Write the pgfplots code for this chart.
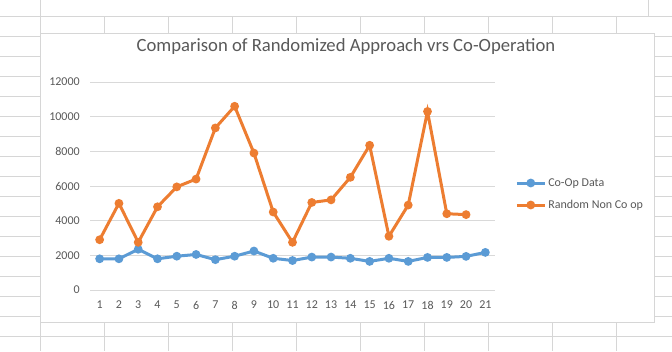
\documentclass[border=0pt]{standalone}
\usepackage{fontspec}
\setmainfont{Carlito}
\usepackage{pgfplots}
\pgfplotsset{compat=1.18}
\definecolor{coop}{HTML}{5B9BD5}
\definecolor{rnd}{HTML}{ED7D31}
\definecolor{gridc}{HTML}{D9D9D9}
\definecolor{sheet}{HTML}{D6D6D6}
\definecolor{txt}{HTML}{595959}
\begin{document}
\begin{tikzpicture}
\begin{scope}[x=0.75pt,y=-0.75pt]
  \useasboundingbox (0,0) rectangle (672,351);
  \fill[white] (0,0) rectangle (672,351);
  \foreach \yy in {16,36,...,336} {\draw[sheet,line width=0.75pt] (0,\yy) -- (672,\yy);}
  \foreach \xx in {40,104,...,616} {\draw[sheet,line width=0.75pt] (\xx,0) -- (\xx,351);}
  \filldraw[fill=white,draw=sheet,line width=0.75pt] (40,-2) rectangle (648,16);
  \filldraw[fill=white,draw=sheet,line width=0.75pt] (40,33) rectangle (654,322);
\end{scope}
\begin{axis}[
  at={(67.5pt,-217.5pt)}, anchor=south west,
  scale only axis, width=303.75pt, height=156pt,
  xmin=0.5, xmax=21.5, ymin=0, ymax=12000,
  xtick={1,...,21}, ytick={0,2000,...,12000},
  axis line style={draw=none},
  ymajorgrids, major grid style={gridc, line width=0.75pt},
  major tick length=0pt, tick style={draw=none},
  scaled y ticks=false,
  /pgf/number format/assume math mode=true,
  yticklabel style={/pgf/number format/fixed, /pgf/number format/1000 sep={}, anchor=east, inner sep=0pt, xshift=-7.5pt, font=\fontsize{9}{10}\selectfont, text=txt},
  xticklabel style={anchor=center, inner sep=0pt, yshift=-11.25pt, font=\fontsize{9}{10}\selectfont, text=txt},
  title={Comparison of Randomized Approach vrs Co-Operation},
  title style={at={(0.632,1.13)}, anchor=center, inner sep=0pt, font=\fontsize{14}{17}\selectfont, text=txt},
  legend style={at={(1.0494,0.4615)}, anchor=west, draw=none, fill=none, inner sep=0pt, row sep=8pt, column sep=1.5pt, nodes={inner sep=0pt, text height=6.5pt, text depth=2pt}, font=\fontsize{9}{10}\selectfont, text=txt},
  legend cell align=left,
  legend image code/.code={\draw[mark repeat=2,mark phase=2] plot coordinates {(0pt,0pt)(10.5pt,0pt)(21pt,0pt)};},
  every axis plot/.append style={line width=2.25pt, mark=*, mark size=2.1pt, mark options={solid}},
]
\addplot[coop, mark options={fill=coop, draw=coop}] coordinates {
 (1,1800) (2,1800) (3,2350) (4,1800) (5,1950) (6,2050) (7,1750) (8,1950) (9,2250) (10,1830)
 (11,1700) (12,1900) (13,1900) (14,1830) (15,1650) (16,1830) (17,1650) (18,1880) (19,1880) (20,1940) (21,2170)};
\addlegendentry{Co-Op Data}
\addplot[rnd, mark options={fill=rnd, draw=rnd}] coordinates {
 (1,2900) (2,5000) (3,2750) (4,4800) (5,5950) (6,6400) (7,9350) (8,10600) (9,7900) (10,4500)
 (11,2750) (12,5050) (13,5200) (14,6500) (15,8350) (16,3100) (17,4900) (18,10300) (19,4400) (20,4350)};
\addlegendentry{Random Non Co op}
\end{axis}
\end{tikzpicture}
\end{document}
